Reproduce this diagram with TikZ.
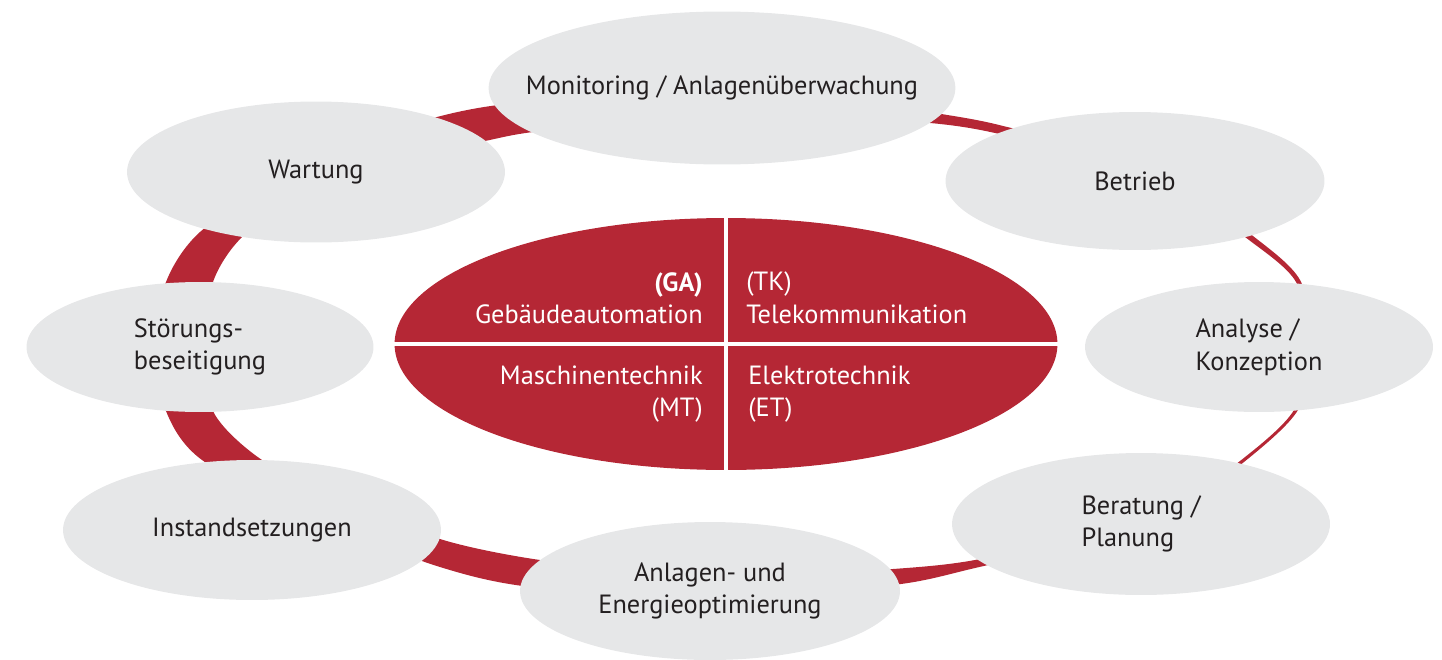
\documentclass[tikz,border=0pt]{standalone}
\usepackage{fontspec}
\setmainfont{PT Sans}
\usetikzlibrary{shapes.geometric}

\definecolor{ringred}{HTML}{B52735}
\definecolor{bubblegray}{HTML}{E6E7E8}
\definecolor{labelgray}{HTML}{231F20}

\tikzset{
  bubble/.style 2 args={ellipse, fill=bubblegray, text=labelgray, inner sep=0pt,
    minimum width=#1, minimum height=#2, align=center},
  quarter/.style={text=white, inner sep=0pt},
  cross/.style={white, line width=2.2pt},
}

\begin{document}
\begin{tikzpicture}[x=0.02cm, y=-0.02cm, font=\fontsize{15}{18.5}\selectfont]
    \useasboundingbox (0,0) rectangle (1442,659);

    % Ring (thick on the left, thin on the right)
    \fill[ringred, even odd rule]
      plot[smooth cycle] coordinates {(156,346) (166,282) (200,232) (280,180) (380,136)
        (437,117) (498,105) (620,93) (730,90) (850,97) (930,112) (995,124) (1100,153) (1190,193)
        (1253,236) (1300,280) (1313,345) (1298,410) (1244,462) (1190,498) (1100,537)
        (975,568) (893,585) (730,596) (540,588) (440,567) (310,517) (202,460) (166,411)}
      plot[smooth cycle] coordinates {(210,346) (213,282) (250,230) (340,182) (420,155)
        (485,141) (533,132) (650,120) (740,118) (840,119) (930,123) (995,133) (1100,161)
        (1188,199) (1249,240) (1296,282) (1308,345) (1294,410) (1240,461) (1185,496)
        (1100,531) (975,560) (893,569) (800,573) (730,573) (640,568) (540,560) (440,539)
        (340,497) (262,460) (213,411)};

    % Core with four fields
    \node[ellipse, fill=ringred, inner sep=0pt, minimum width=13.26cm, minimum height=5.04cm] (core) at (726,344) {};
    \draw[cross] (core.north) -- (core.south);
    \draw[cross] (core.west) -- (core.east);

    \node[quarter, anchor=east, align=right] (ga) at (703,298) {\textbf{(GA)}\\Gebäudeautomation};
    \node[quarter, anchor=west, align=left] (tk) at (746,298) {(TK)\\Telekommunikation};
    \node[quarter, anchor=east, align=right] (mt) at (703,394) {Maschinentechnik\\(MT)};
    \node[quarter, anchor=west, align=left] (et) at (748,394) {Elektrotechnik\\(ET)};

    % Services around the ring
    \node[bubble={9.30cm}{3.06cm}, inner xsep=-0.62cm] (monitoring) at (722,88) {Monitoring / Anlagenüberwachung};
    \node[bubble={7.58cm}{2.76cm}] (betrieb) at (1135,181) {Betrieb};
    \node[bubble={6.96cm}{2.60cm}, align=left] (analyse) at (1259,347) {Analyse /\\Konzeption};
    \node[bubble={7.56cm}{2.84cm}, align=left] (beratung) at (1141,524) {Beratung /\\Planung};
    \node[bubble={7.60cm}{2.76cm}] (optimierung) at (710,591) {Anlagen- und\\Energieoptimierung};
    \node[bubble={7.56cm}{2.80cm}] (instand) at (252,530) {Instandsetzungen};
    \node[bubble={6.94cm}{2.60cm}, align=left] (stoerung) at (200,347) {Störungs-\\beseitigung};
    \node[bubble={7.56cm}{2.82cm}] (wartung) at (316,172) {Wartung};
\end{tikzpicture}
\end{document}
